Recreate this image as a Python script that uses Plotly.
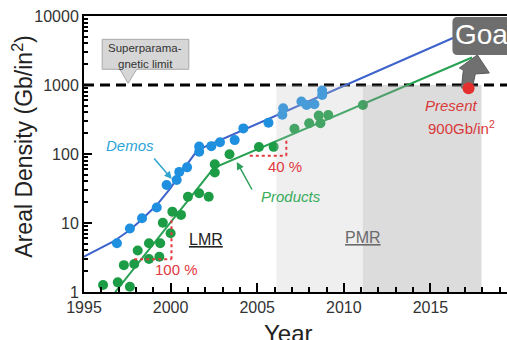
import numpy as np
import plotly.graph_objects as go

# ---- data -------------------------------------------------------------
demo_year = [1996.9, 1997.65, 1998.35, 1999.2, 1999.77, 2000.35, 2000.5, 2000.95,
             2001.65, 2001.65, 2002.35, 2002.85, 2003.7, 2004.2, 2005.65,
             2006.45, 2006.5, 2007.55, 2007.85, 2008.3, 2008.75, 2008.75]
demo_density = [5.1, 8.3, 11.7, 16.8, 35.5, 42, 55, 64,
                108, 128, 130, 148, 159, 235, 284,
                370, 460, 575, 514, 525, 716, 830]

product_year = [1996.1, 1996.95, 1997.65, 1997.3, 1997.9, 1998.1, 1998.75, 1998.75,
                1999.4, 1999.35, 1999.55, 2000.0, 2000.1, 2000.6, 2001.0, 2001.65,
                2002.2, 2002.55, 2002.55, 2003.4, 2005.1, 2005.95, 2007.15, 2008.0,
                2008.55, 2008.65, 2009.1, 2011.1]
product_density = [1.26, 1.38, 1.19, 2.45, 2.55, 4.0, 5.1, 3.0,
                   5.1, 3.25, 10.1, 7.1, 14.6, 13.1, 24, 27,
                   24, 71, 54, 99, 126, 127, 232, 279,
                   360, 279, 367, 514]

# trend lines
demo_trend_year = [1995.0, 1996.7, 1997.65, 1998.35, 1999.2, 1999.95, 2000.8, 2001.55, 2016.3]
demo_trend_density = [3.25, 5.4, 7.9, 11.3, 18.2, 31, 63, 114, 4800]
product_trend_year = [1996.8, 2002.5, 2017.4]
product_trend_density = [1.0, 63, 2500]

present_year = [2017.2]
present_density = [900]

limit_density = 1000
lmr_pmr_eras = [2006.1, 2011.1, 2017.95]   # light band, dark band edges

x_ticks = [1995, 2000, 2005, 2010, 2015]
y_ticks = [1, 10, 100, 1000, 10000]
y_ticktext = ["1", "10", "100", "1000", "10000"]

FONT = "Arial, Liberation Sans, sans-serif"
BLUE = "#1f8fe0"
GREEN = "#1d9c46"
RED = "#e3302f"


def py(v):
    """log-axis value -> paper fraction (axis spans 1..10000)."""
    return float(np.log10(v)) / 4.0


fig = go.Figure()

fig.add_trace(go.Scatter(x=demo_trend_year, y=demo_trend_density, mode="lines",
                         line=dict(color="#3d62cc", width=2),
                         hoverinfo="skip", showlegend=False))
fig.add_trace(go.Scatter(x=product_trend_year, y=product_trend_density, mode="lines",
                         line=dict(color="#27a152", width=2),
                         hoverinfo="skip", showlegend=False))
fig.add_trace(go.Scatter(x=demo_year, y=demo_density, mode="markers",
                         marker=dict(color=BLUE, size=10, line=dict(width=0)),
                         showlegend=False))
fig.add_trace(go.Scatter(x=product_year, y=product_density, mode="markers",
                         marker=dict(color=GREEN, size=10, line=dict(width=0)),
                         showlegend=False))

# translucent era bands, drawn over the earlier points
band_fill = ["rgba(190,190,190,0.25)", "rgba(155,155,155,0.35)"]
for i in range(2):
    a, b = lmr_pmr_eras[i], lmr_pmr_eras[i + 1]
    fig.add_trace(go.Scatter(x=[a, b, b, a, a],
                             y=[1, 1, limit_density, limit_density, 1],
                             mode="lines", fill="toself", fillcolor=band_fill[i],
                             line=dict(width=0), hoverinfo="skip", showlegend=False))

fig.add_trace(go.Scatter(x=present_year, y=present_density, mode="markers",
                         marker=dict(color=RED, size=12, line=dict(width=0)),
                         showlegend=False))

shapes = []
# superparamagnetic limit
shapes.append(dict(type="line", xref="paper", yref="paper", x0=0, x1=1,
                   y0=py(limit_density), y1=py(limit_density),
                   line=dict(color="black", width=3, dash="10px,6px"), layer="below"))
# block arrow toward goal
shapes.append(dict(type="path", xref="x", yref="paper", layer="below",
                   path=("M 2016.79,0.739 L 2016.90,0.804 L 2016.67,0.8115 L 2017.71,0.859 "
                         "L 2018.40,0.7935 L 2017.59,0.790 L 2017.42,0.739 Z"),
                   fillcolor="#707070", line=dict(color="#5a5a5a", width=1)))
# goal box
gx0, gx1, gt, gb, rx, ry = 2016.27, 2020.5, 0.996, 0.8587, 0.3, 0.018
shapes.append(dict(type="path", xref="x", yref="paper", layer="above",
                   path=(f"M {gx0+rx},{gt} L {gx1},{gt} L {gx1},{gb} L {gx0+rx},{gb} "
                         f"Q {gx0},{gb} {gx0},{gb+ry} L {gx0},{gt-ry} Q {gx0},{gt} {gx0+rx},{gt} Z"),
                   fillcolor="#6e6e6e", line=dict(width=0)))
# callout box with pointer
cx0, cx1, ct, cb = 1996.05, 2001.05, 3.662 / 4, 3.228 / 4
shapes.append(dict(type="path", xref="x", yref="paper", layer="above",
                   path=(f"M {cx0},{ct} L {cx1},{ct} L {cx1},{cb} L 1998.04,{cb} "
                         f"L 1997.55,{3.025/4} L 1997.07,{cb} L {cx0},{cb} Z"),
                   fillcolor="#d6d6d6", line=dict(color="#a8a8a8", width=1)))
# growth-rate guides
dot = dict(color="#e0393e", width=2, dash="dot")
shapes += [
    dict(type="line", xref="x", yref="paper", x0=1997.9, x1=2000.05, y0=py(2.98), y1=py(2.98), line=dot),
    dict(type="line", xref="x", yref="paper", x0=2000.05, x1=2000.05, y0=py(2.98), y1=py(12.3), line=dot),
    dict(type="line", xref="x", yref="paper", x0=2004.57, x1=2006.68, y0=py(94.5), y1=py(94.5), line=dot),
    dict(type="line", xref="x", yref="paper", x0=2006.68, x1=2006.68, y0=py(94.5), y1=py(169), line=dot),
]


def label(x, y, text, size, color, xref="x", **kw):
    d = dict(x=x, y=y, xref=xref, yref="paper", text=text, showarrow=False,
             xanchor="center", yanchor="middle",
             font=dict(family=FONT, size=size, color=color))
    d.update(kw)
    return d


annotations = [
    label(1998.55, (292 - 48.5) / 276, "Superparama-", 11.5, "#333333"),
    label(1998.55, (292 - 63.5) / 276, "gnetic limit", 11.5, "#333333"),
    label(1997.65, 2.116 / 4, "<i>Demos</i>", 15, "#2ba5d8"),
    label(2006.93, 1.391 / 4, "<i>Products</i>", 15, "#3aab5c"),
    label(2002.03, 0.768 / 4, "<u>LMR</u>", 16, "#222222"),
    label(2011.08, 0.797 / 4, "<u>PMR</u>", 16, "#6b6b6b"),
    label(2000.36, 0.333 / 4, "100 %", 15, "#e0393e"),
    label(2006.58, 1.812 / 4, "40 %", 15, "#e0393e"),
    label(2016.2, 2.71 / 4, "<i>Present</i>", 15, "#d9383a"),
    label(2016.79, 2.391 / 4, "900Gb/in<sup>2</sup>", 15, "#d9383a"),
    label(2016.3, 3.725 / 4, "Goal", 28, "white", xanchor="left"),
    # axis titles
    label(-0.145, (292 - 147) / 276, "Areal Density (Gb/in<sup>2</sup>)", 23, "#222222",
          xref="paper", textangle=-90),
    label((288 - 84) / 423, (292 - 333) / 276, "Year", 24, "#222222", xref="paper"),
    dict(x=2000.07, y=1.638 / 4, xref="x", yref="paper", text="", showarrow=True,
         ax=-19, ay=-22, arrowhead=2, arrowsize=1, arrowwidth=1.5, arrowcolor="#2ea5cf"),
    dict(x=2003.82, y=1.884 / 4, xref="x", yref="paper", text="", showarrow=True,
         ax=16, ay=29, arrowhead=2, arrowsize=1, arrowwidth=1.5, arrowcolor="#2e9e5b"),
]

fig.update_layout(
    width=507, height=340,
    margin=dict(l=84, r=0, t=16, b=48),
    paper_bgcolor="white", plot_bgcolor="white",
    font=dict(family=FONT, color="#333333"),
    shapes=shapes, annotations=annotations,
    showlegend=False,
)
fig.update_xaxes(
    range=[1995, 2019.42], tickvals=x_ticks, ticks="inside", ticklen=9, tickwidth=2,
    tickcolor="black", showline=True, linewidth=2, linecolor="black", mirror=True,
    showgrid=False, zeroline=False, tickfont=dict(size=16, color="#333333"),
    minor=dict(dtick=1, tick0=1995, ticks="inside", ticklen=5, tickwidth=1.5,
               tickcolor="black", showgrid=False),
)
fig.update_yaxes(
    type="log", range=[0, 4], tickvals=y_ticks, ticktext=y_ticktext, ticks="inside",
    ticklen=8, tickwidth=2, tickcolor="black", showline=True, linewidth=2,
    linecolor="black", showgrid=False, zeroline=False,
    tickfont=dict(size=16, color="#333333"),
    minor=dict(dtick="D1", ticks="inside", ticklen=4, tickwidth=1.5,
               tickcolor="black", showgrid=False),
)

fig.write_html("out.html")
